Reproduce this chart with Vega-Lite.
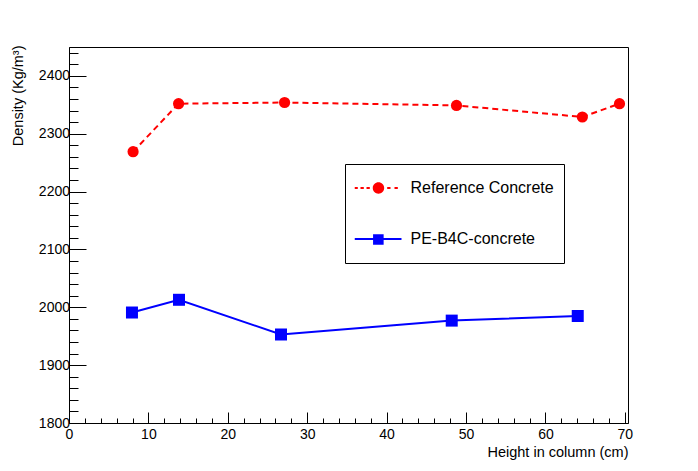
{
  "$schema": "https://vega.github.io/schema/vega-lite/v6.json",
  "width": 559,
  "height": 376,
  "autosize": {"type": "none"},
  "padding": {"left": 69, "top": 47, "right": 70, "bottom": 48},
  "background": "white",
  "config": {
    "font": "Liberation Sans",
    "view": {"stroke": "black", "strokeWidth": 1},
    "axis": {
      "domainColor": "black",
      "tickColor": "black",
      "labelColor": "black",
      "titleColor": "black",
      "grid": false,
      "labelFont": "Liberation Sans",
      "labelFontSize": 14,
      "titleFont": "Liberation Sans",
      "titleFontSize": 14.5,
      "titleFontWeight": "normal"
    }
  },
  "data": {
    "values": [
      {"series": "Reference Concrete", "height": 8.07, "density": 2269},
      {"series": "Reference Concrete", "height": 13.8, "density": 2352},
      {"series": "Reference Concrete", "height": 27.15, "density": 2354},
      {"series": "Reference Concrete", "height": 48.8, "density": 2349},
      {"series": "Reference Concrete", "height": 64.65, "density": 2329},
      {"series": "Reference Concrete", "height": 69.33, "density": 2352},
      {"series": "PE-B4C-concrete", "height": 7.93, "density": 1991},
      {"series": "PE-B4C-concrete", "height": 13.85, "density": 2013},
      {"series": "PE-B4C-concrete", "height": 26.7, "density": 1953},
      {"series": "PE-B4C-concrete", "height": 48.2, "density": 1977},
      {"series": "PE-B4C-concrete", "height": 64.07, "density": 1985}
    ]
  },
  "encoding": {
    "x": {
      "field": "height",
      "type": "quantitative",
      "scale": {"domain": [0, 70.4], "nice": false, "zero": false},
      "axis": {
        "title": "Height in column (cm)",
        "values": [0,2,4,6,8,10,12,14,16,18,20,22,24,26,28,30,32,34,36,38,40,42,44,46,48,50,52,54,56,58,60,62,64,66,68,70],
        "labelExpr": "datum.value % 10 === 0 ? datum.label : ''",
        "tickSize": {"condition": {"test": "datum.value % 10 === 0", "value": -11}, "value": -5},
        "labelPadding": 15,
        "labelFlush": false,
        "labelOverlap": false,
        "titleAnchor": "end",
        "titleAlign": "right",
        "titleBaseline": "middle",
        "titleX": 559,
        "titleY": 29
      }
    },
    "y": {
      "field": "density",
      "type": "quantitative",
      "scale": {"domain": [1800, 2450], "nice": false, "zero": false},
      "axis": {
        "title": "Density (Kg/m³)",
        "values": [1800,1820,1840,1860,1880,1900,1920,1940,1960,1980,2000,2020,2040,2060,2080,2100,2120,2140,2160,2180,2200,2220,2240,2260,2280,2300,2320,2340,2360,2380,2400,2420,2440],
        "labelExpr": "datum.value % 100 === 0 ? datum.label : ''",
        "format": "d",
        "tickSize": {"condition": {"test": "datum.value % 100 === 0", "value": -17}, "value": -9},
        "labelPadding": 16.5,
        "labelFlush": false,
        "labelOverlap": false,
        "titleAngle": -90,
        "titleAlign": "right",
        "titleBaseline": "middle",
        "titleX": -51,
        "titleY": -2
      }
    },
    "color": {
      "field": "series",
      "type": "nominal",
      "scale": {"domain": ["Reference Concrete", "PE-B4C-concrete"], "range": ["#ff0000", "#0000ff"]},
      "legend": {
        "title": null,
        "orient": "none",
        "legendX": 276,
        "legendY": 117,
        "padding": 9.5,
        "fillColor": "white",
        "strokeColor": "black",
        "labelFont": "Liberation Sans",
        "labelFontSize": 16,
        "labelColor": "black",
        "labelOffset": 9,
        "labelExpr": "datum.label + '\u2003\u2003\u2003'",
        "symbolSize": 2209,
        "clipHeight": 29,
        "rowPadding": 22,
        "encode": {
          "legend": {
            "update": {
              "strokeWidth": {"value": 1}
            }
          },
          "symbols": {
            "update": {
              "shape": {"signal": "datum.value === 'Reference Concrete' ? 'M-1,-0.043H-0.86V0.043H-1Z M-0.745,-0.043H-0.604V0.043H-0.745Z M-0.489,-0.043H-0.349V0.043H-0.489Z M0.391,-0.043H0.532V0.043H0.391Z M0.702,-0.043H0.843V0.043H0.702Z M0.263,0A0.243,0.243 0 1,1 -0.223,0A0.243,0.243 0 1,1 0.263,0Z' : 'M-1,-0.043H-0.21V0.043H-1Z M0.24,-0.043H1V0.043H0.24Z M-0.21,-0.205H0.24V0.245H-0.21Z'"},
              "fill": {"signal": "datum.value === 'Reference Concrete' ? '#ff0000' : '#0000ff'"},
              "strokeWidth": {"value": 0}
            }
          }
        }
      }
    }
  },
  "layer": [
    {
      "transform": [{"filter": "datum.series === 'Reference Concrete'"}],
      "mark": {"type": "line", "strokeWidth": 2, "strokeDash": [6, 4]}
    },
    {
      "transform": [{"filter": "datum.series === 'PE-B4C-concrete'"}],
      "mark": {"type": "line", "strokeWidth": 2}
    },
    {
      "transform": [{"filter": "datum.series === 'Reference Concrete'"}],
      "mark": {"type": "point", "shape": "circle", "size": 125, "filled": true, "opacity": 1, "strokeWidth": 0}
    },
    {
      "transform": [{"filter": "datum.series === 'PE-B4C-concrete'"}],
      "mark": {"type": "point", "shape": "square", "size": 144, "filled": true, "opacity": 1, "strokeWidth": 0}
    }
  ]
}
